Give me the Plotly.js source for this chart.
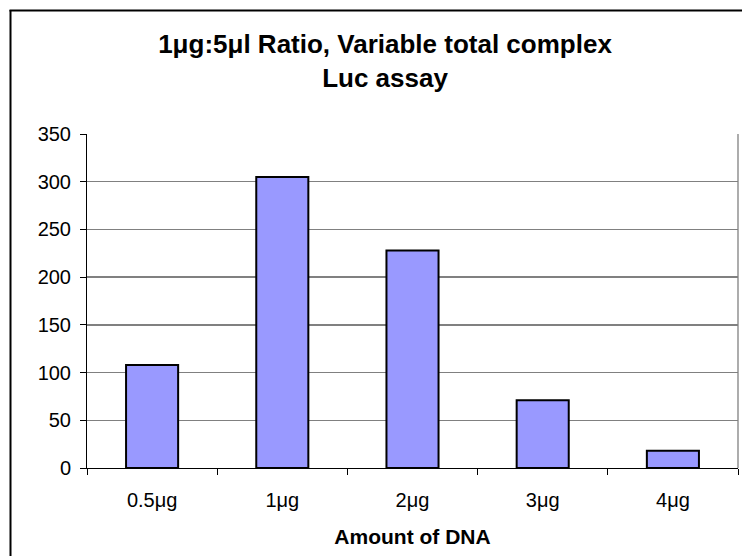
<!DOCTYPE html>
<html>
<head>
<meta charset="utf-8">
<script src="https://cdn.plot.ly/plotly-3.0.1.min.js"></script>
<style>html,body{margin:0;padding:0;background:#fff;}#chart{width:742px;height:556px;}</style>
</head>
<body>
<div id="chart"></div>
<script>
const categories = ["0.5μg", "1μg", "2μg", "3μg", "4μg"];
const values = [108, 305, 228, 71, 18];
const yTicks = [0, 50, 100, 150, 200, 250, 300, 350];
const chartTitle = "1μg:5μl Ratio, Variable total complex<br>Luc assay";
const xTitle = "Amount of DNA";

const W = 742, H = 556;
const m = {l: 87, r: 4, t: 134, b: 88};
const pw = W - m.l - m.r, ph = H - m.t - m.b;
const px = x => (x - m.l) / pw;
const py = y => (H - m.b - y) / ph;

const font = "Liberation Sans, Arial, sans-serif";

const trace = {
  type: "bar",
  x: categories,
  y: values,
  width: 0.4,
  marker: {color: "#9999FF", line: {color: "#000000", width: 2}},
  hoverinfo: "x+y"
};

const layout = {
  width: W, height: H,
  margin: m,
  paper_bgcolor: "#ffffff",
  plot_bgcolor: "#ffffff",
  showlegend: false,
  font: {family: font, color: "#000000", size: 20},
  title: {
    text: chartTitle,
    font: {family: font, size: 26, color: "#000000", weight: "bold"},
    x: 385 / W, xanchor: "center", xref: "container",
    y: 1 - 53 / H, yanchor: "middle", yref: "container"
  },
  xaxis: {
    type: "category",
    tickson: "boundaries",
    ticks: "outside", ticklen: 6, tickcolor: "#000000", tickwidth: 1,
    showline: true, linecolor: "#000000", linewidth: 1,
    showgrid: false, zeroline: false,
    tickfont: {family: font, size: 20, color: "#000000"},
    ticklabelstandoff: 14,
    title: {text: xTitle, font: {family: font, size: 21, color: "#000000", weight: "bold"}, standoff: 19},
    range: [-0.5, 4.5]
  },
  yaxis: {
    range: [0, 350],
    tickvals: yTicks,
    ticks: "outside", ticklen: 6, tickcolor: "#000000", tickwidth: 1,
    showline: true, linecolor: "#000000", linewidth: 1,
    showgrid: true, gridcolor: "#808080", gridwidth: 1.3,
    zeroline: false,
    tickfont: {family: font, size: 20, color: "#000000"},
    ticklabelstandoff: 5
  },
  shapes: [
    {type: "line", xref: "paper", yref: "paper", x0: 1, x1: 1, y0: 0, y1: 1,
     line: {color: "#808080", width: 1.3}},
    {type: "line", xref: "paper", yref: "paper", x0: px(10.5), x1: px(10.5), y0: py(10), y1: py(560),
     line: {color: "#000000", width: 2}},
    {type: "line", xref: "paper", yref: "paper", x0: px(9.5), x1: px(745), y0: py(10.5), y1: py(10.5),
     line: {color: "#000000", width: 2}}
  ]
};

Plotly.newPlot("chart", [trace], layout, {displayModeBar: false, staticPlot: true});
</script>
</body>
</html>
